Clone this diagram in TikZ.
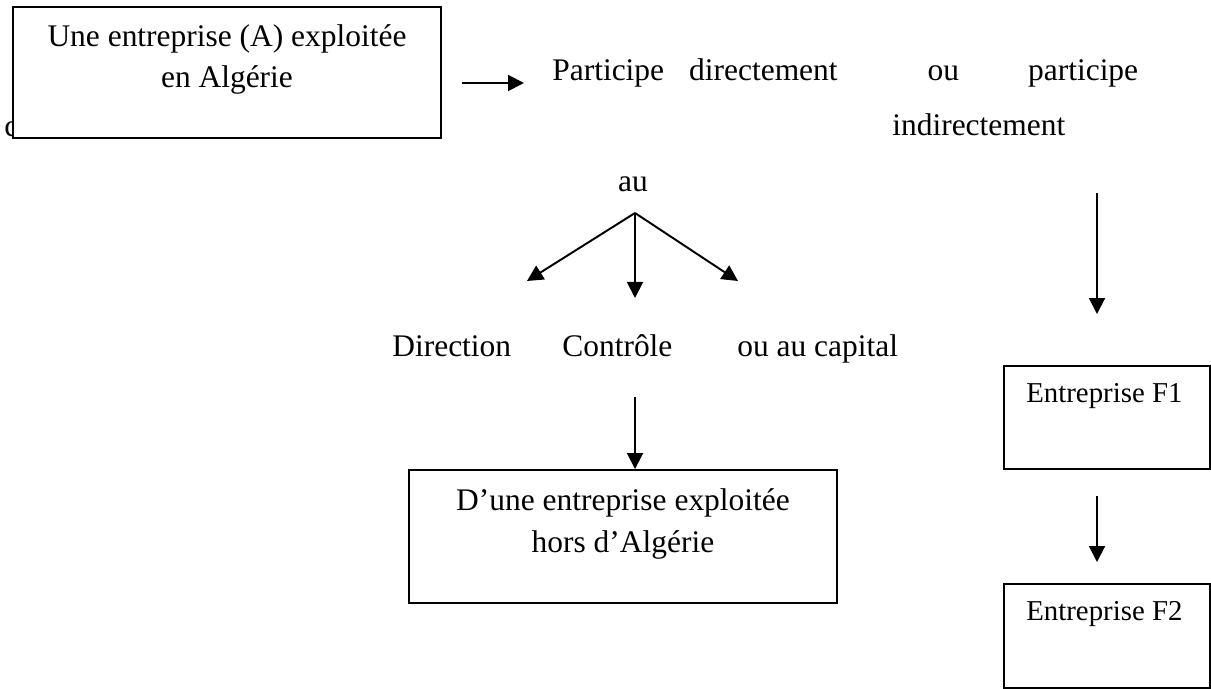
\documentclass[tikz,border=0pt]{standalone}
\usepackage{fontspec}
\setmainfont{Liberation Serif}
\usetikzlibrary{positioning}
\usetikzlibrary{arrows.meta}

\begin{document}
\begin{tikzpicture}[
  every node/.style={inner sep=0pt, font=\fontsize{17.9}{23.5}\selectfont},
  box/.style={draw, rectangle, line width=1.1pt, fill=white},
  small/.style={font=\fontsize{16.4}{21}\selectfont},
  arr/.style={-{Triangle[length=0.32cm,width=0.32cm]}, line width=1.1pt}]
  \useasboundingbox (0,0) rectangle (24.22,-13.78);
  % letter partly hidden behind the first box
  \node (hid) [anchor=base west] at (0.08,-2.74) {c};
  \node (boxA) [box, minimum width=8.56cm, minimum height=2.62cm] at (4.54,-1.45) {};
  \node (txtA) [anchor=base, align=center] at (4.54,-1.76) {Une entreprise (A) exploitée\\en Algérie};
  \node (part) [anchor=base west] at (11.04,-1.62) {Participe\hspace{0.5cm}directement\hspace{1.8cm}ou\hspace{1.38cm}participe};
  \node (indir) [anchor=base west] at (17.84,-2.72) {indirectement};
  \draw[arr] ([xshift=-1.8cm,yshift=-0.04cm]part.base west) -- ([xshift=-0.56cm,yshift=-0.04cm]part.base west);

  % middle branch
  \node (au) [anchor=base] at (12.66,-3.84) {au};
  \coordinate (fork) at (12.7,-4.26);
  \coordinate (tl) at (10.54,-5.62);
  \coordinate (tm) at (12.7,-5.96);
  \coordinate (tr) at (14.76,-5.62);
  \draw[arr] (fork) -- (tl);
  \draw[arr] (fork) -- (tm);
  \draw[arr] (fork) -- (tr);
  \node (dir) [anchor=base west] at (7.84,-7.14) {Direction};
  \node (ctrl) [anchor=base west] at (11.24,-7.14) {Contrôle};
  \node (cap) [anchor=base west] at (14.74,-7.14) {ou au capital};
  \node (boxD) [box, minimum width=8.56cm, minimum height=2.66cm] at (12.46,-10.73) {};
  \node (txtD) [anchor=base, align=center] at (12.46,-11.04) {D’une entreprise exploitée\\hors d’Algérie};
  \draw[arr] ([xshift=0.24cm,yshift=1.44cm]boxD.north) -- ([xshift=0.24cm]boxD.north);

  % right column
  \coordinate (d1) at (21.94,-3.86);
  \node (boxF1) [box, minimum width=4.12cm, minimum height=2.06cm] at (22.14,-8.35) {};
  \node (txtF1) [small, anchor=base west] at (20.52,-8.06) {Entreprise F1};
  \node (boxF2) [box, minimum width=4.12cm, minimum height=2.08cm] at (22.14,-12.72) {};
  \node (txtF2) [small, anchor=base west] at (20.52,-12.4) {Entreprise F2};
  \draw[arr] (d1) -- ([xshift=-0.2cm,yshift=1.02cm]boxF1.north);
  \draw[arr] ([xshift=-0.2cm,yshift=-0.52cm]boxF1.south) -- ([xshift=-0.2cm,yshift=0.42cm]boxF2.north);
\end{tikzpicture}
\end{document}
